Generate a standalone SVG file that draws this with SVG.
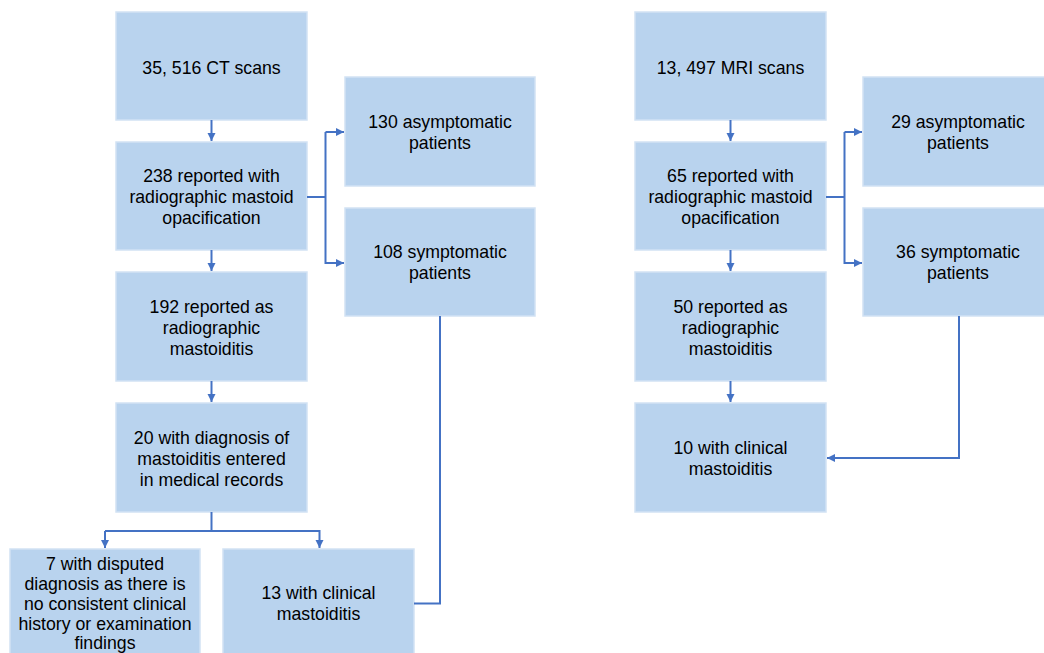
<svg xmlns="http://www.w3.org/2000/svg" width="1044" height="653" viewBox="0 0 1044 653">
<defs>
<style>
.box{fill:#B9D3EE;stroke:#D2E2F4;stroke-width:1.5}
.t{font-family:"Liberation Sans",Arial,sans-serif;font-size:17.7px;fill:#000;text-anchor:middle}
.c{fill:none;stroke:#4472C4;stroke-width:2}
</style>
<marker id="ah" markerWidth="10" markerHeight="10" refX="9" refY="5" orient="auto" markerUnits="userSpaceOnUse">
<path d="M1,1 L9,5 L1,9 Z" fill="#4472C4"/>
</marker>
</defs>
<rect width="1044" height="653" fill="#fff"/>
<g id="ct"><rect class="box" x="116" y="12" width="191" height="108"/><text class="t" x="211.5" y="74">35, 516 CT scans</text></g>
<g id="ct238"><rect class="box" x="116" y="142" width="191" height="108"/><text class="t" x="211.5" y="182">238 reported with</text><text class="t" x="211.5" y="203">radiographic mastoid</text><text class="t" x="211.5" y="224">opacification</text></g>
<g id="ct192"><rect class="box" x="116" y="272" width="191" height="109"/><text class="t" x="211.5" y="313">192 reported as</text><text class="t" x="211.5" y="334">radiographic</text><text class="t" x="211.5" y="355">mastoiditis</text></g>
<g id="ct20"><rect class="box" x="116" y="403" width="191" height="109"/><text class="t" x="211.5" y="444">20 with diagnosis of</text><text class="t" x="211.5" y="465">mastoiditis entered</text><text class="t" x="211.5" y="486">in medical records</text></g>
<g id="ct7"><rect class="box" x="10" y="549" width="190" height="110"/><text class="t" x="105" y="570">7 with disputed</text><text class="t" x="105" y="590">diagnosis as there is</text><text class="t" x="105" y="610">no consistent clinical</text><text class="t" x="105" y="630">history or examination</text><text class="t" x="105" y="649">findings</text></g>
<g id="ct13"><rect class="box" x="223" y="549" width="191" height="110"/><text class="t" x="318.5" y="599">13 with clinical</text><text class="t" x="318.5" y="620">mastoiditis</text></g>
<g id="ct130"><rect class="box" x="345" y="77" width="190" height="109"/><text class="t" x="440" y="128">130 asymptomatic</text><text class="t" x="440" y="149">patients</text></g>
<g id="ct108"><rect class="box" x="345" y="208" width="190" height="108"/><text class="t" x="440" y="258">108 symptomatic</text><text class="t" x="440" y="279">patients</text></g>
<g id="mri"><rect class="box" x="635" y="12" width="191" height="108"/><text class="t" x="730.5" y="74">13, 497 MRI scans</text></g>
<g id="mri65"><rect class="box" x="635" y="142" width="191" height="108"/><text class="t" x="730.5" y="182">65 reported with</text><text class="t" x="730.5" y="203">radiographic mastoid</text><text class="t" x="730.5" y="224">opacification</text></g>
<g id="mri50"><rect class="box" x="635" y="272" width="191" height="109"/><text class="t" x="730.5" y="313">50 reported as</text><text class="t" x="730.5" y="334">radiographic</text><text class="t" x="730.5" y="355">mastoiditis</text></g>
<g id="mri10"><rect class="box" x="635" y="403" width="191" height="109"/><text class="t" x="730.5" y="454">10 with clinical</text><text class="t" x="730.5" y="475">mastoiditis</text></g>
<g id="mri29"><rect class="box" x="863" y="77" width="190" height="109"/><text class="t" x="958" y="128">29 asymptomatic</text><text class="t" x="958" y="149">patients</text></g>
<g id="mri36"><rect class="box" x="863" y="208" width="190" height="108"/><text class="t" x="958" y="258">36 symptomatic</text><text class="t" x="958" y="279">patients</text></g>
<g id="connectors">
<path class="c" d="M211.5,120 V141" marker-end="url(#ah)"/>
<path class="c" d="M211.5,250 V271" marker-end="url(#ah)"/>
<path class="c" d="M211.5,381 V402" marker-end="url(#ah)"/>
<path class="c" d="M307,197 H325.5"/>
<path class="c" d="M325.5,132 V263 H344" marker-end="url(#ah)"/>
<path class="c" d="M325.5,132 H344" marker-end="url(#ah)"/>
<path class="c" d="M211.5,512 V531"/>
<path class="c" d="M105,531 H319.5 V548" marker-end="url(#ah)"/>
<path class="c" d="M105,531 V548" marker-end="url(#ah)"/>
<path class="c" d="M440,316 V603.5 H414"/>
<path class="c" d="M730.5,120 V141" marker-end="url(#ah)"/>
<path class="c" d="M730.5,250 V271" marker-end="url(#ah)"/>
<path class="c" d="M730.5,381 V402" marker-end="url(#ah)"/>
<path class="c" d="M826,197 H844.5"/>
<path class="c" d="M844.5,132 V263 H862" marker-end="url(#ah)"/>
<path class="c" d="M844.5,132 H862" marker-end="url(#ah)"/>
<path class="c" d="M959,316 V458 H827" marker-end="url(#ah)"/>
</g>
</svg>
